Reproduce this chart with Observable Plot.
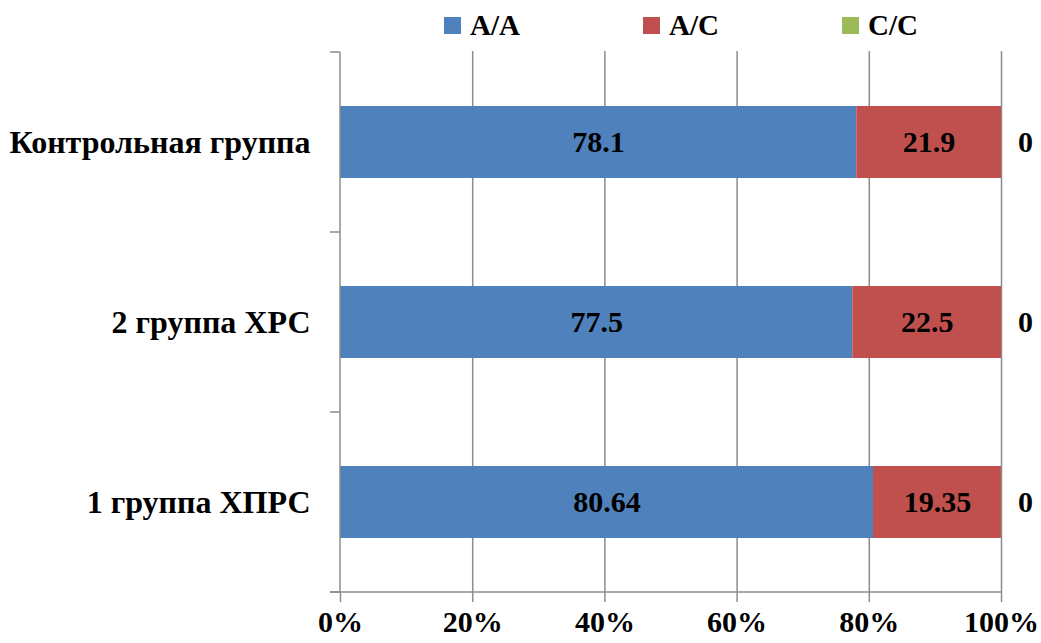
<!DOCTYPE html>
<html><head><meta charset="utf-8">
<script src="https://cdn.jsdelivr.net/npm/d3@7"></script>
<script src="https://cdn.jsdelivr.net/npm/@observablehq/plot@0.6"></script>
<style>
body{margin:0;background:#fff;font-family:'Liberation Serif';}
#legend{height:45px;box-sizing:border-box;padding-top:6px;display:flex;padding-left:444px;align-items:center;}
.item{width:199.5px;display:flex;align-items:center;font-weight:bold;font-size:29px;color:#000;font-family:'Liberation Serif';}
.sw{width:17px;height:17px;margin-right:9px;}
#chart svg{display:block;}
#chart svg text{font-family:'Liberation Serif';font-weight:bold;}
</style></head><body>
<div id="legend"></div><div id="chart"></div>
<script>
const groups = ["Контрольная группа", "2 группа ХРС", "1 группа ХПРС"];
const keys = ["A/A", "A/C", "C/C"];
const colors = ["#4F81BD", "#C0504D", "#9BBB59"];
const valuesAA = [78.1, 77.5, 80.64];
const valuesAC = [21.9, 22.5, 19.35];
const valuesCC = [0, 0, 0];
const xTicks = [0, 20, 40, 60, 80, 100];

const series = [valuesAA, valuesAC, valuesCC];
const data = [];
groups.forEach((g, i) => keys.forEach((k, j) => data.push({group: g, key: k, value: series[j][i]})));

const legend = document.getElementById("legend");
keys.forEach((k, j) => {
  const it = document.createElement("div"); it.className = "item";
  const sw = document.createElement("span"); sw.className = "sw"; sw.style.background = colors[j];
  const t = document.createElement("span"); t.textContent = k;
  it.appendChild(sw); it.appendChild(t); legend.appendChild(it);
});

const plot = Plot.plot({
  width: 1041, height: 598,
  marginLeft: 340, marginRight: 40, marginTop: 6, marginBottom: 51,
  style: {fontFamily: "Liberation Serif", fontWeight: "bold", background: "#fff", color: "#000"},
  x: {domain: [0, 100], label: null},
  y: {domain: groups, paddingInner: 0.6, paddingOuter: 0.3, label: null},
  color: {domain: keys, range: colors},
  marks: [
    Plot.gridX(xTicks.slice(1), {stroke: "#8c8c8c", strokeOpacity: 1, strokeWidth: 1.5}),
    Plot.barX(data, {x: "value", y: "group", fill: "key", order: keys}),
    Plot.text(data, Plot.stackX({x: "value", y: "group", z: "key", order: keys,
      text: d => d.key === "C/C" ? "" : String(d.value), fontSize: 30, fill: "#000"})),
    Plot.text(data, Plot.stackX({x: "value", y: "group", z: "key", order: keys,
      text: d => d.key === "C/C" ? String(d.value) : "", fontSize: 30, fill: "#000", dx: 24})),
    Plot.axisX(xTicks, {tickSize: 10, tickPadding: 8, tickFormat: d => d + "%", fontSize: 30,
      stroke: "#8c8c8c", strokeWidth: 1.5, fill: "#000", label: null}),
    Plot.axisY({tickSize: 0, tickPadding: 30, fontSize: 32, fill: "#000", label: null})
  ]
});

const sx = plot.scale("x"), sy = plot.scale("y");
const gap = (sy.step - sy.bandwidth) / 2;
const bounds = groups.map(g => sy.apply(g) - gap);
bounds.push(sy.apply(groups[groups.length - 1]) + sy.bandwidth + gap);
const x0 = sx.apply(0), x1 = sx.apply(100);
const g = d3.select(plot).append("g").attr("stroke", "#8c8c8c").attr("stroke-width", 1.5);
g.append("line").attr("x1", x0).attr("x2", x0).attr("y1", bounds[0]).attr("y2", bounds[bounds.length - 1]);
g.append("line").attr("x1", x0 - 10).attr("x2", x1).attr("y1", bounds[bounds.length - 1]).attr("y2", bounds[bounds.length - 1]);
bounds.forEach(b => g.append("line").attr("x1", x0 - 10).attr("x2", x0).attr("y1", b).attr("y2", b));

document.getElementById("chart").appendChild(plot);
</script>
</body></html>
